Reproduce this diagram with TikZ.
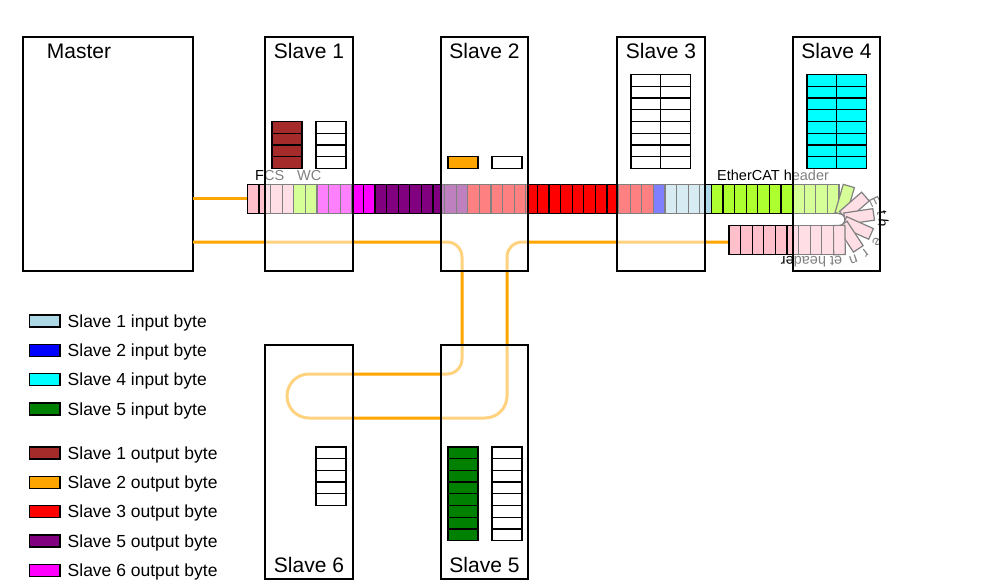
\documentclass[tikz,border=0pt]{standalone}
\usepackage{fontspec}
\setmainfont{Liberation Sans}
\definecolor{cPink}{HTML}{FFC0CB}
\definecolor{cGY}{HTML}{ADFF2F}
\definecolor{cMag}{HTML}{FF00FF}
\definecolor{cPur}{HTML}{800080}
\definecolor{cRed}{HTML}{FF0000}
\definecolor{cBlue}{HTML}{0000FF}
\definecolor{cLB}{HTML}{ADD8E6}
\definecolor{cCyan}{HTML}{00FFFF}
\definecolor{cGreen}{HTML}{008000}
\definecolor{cBrown}{HTML}{A52A2A}
\definecolor{cOrange}{HTML}{FFA500}
\begin{document}
\begin{tikzpicture}[x=1pt,y=-1pt,
  wire/.style={draw=cOrange, line width=3pt},
  cell/.style={draw=black, line width=1.2pt},
  devbox/.style={draw=black, line width=1.3pt, fill=white, fill opacity=0.5, text opacity=1, inner sep=0pt, outer sep=0pt, minimum height=234pt},
  bytecell/.style={draw=black, line width=1.3pt},
  title/.style={font=\fontsize{21}{25}\selectfont, inner sep=0pt, anchor=base},
  small/.style={font=\fontsize{14.5}{17}\selectfont, inner sep=0pt},
  legtext/.style={font=\fontsize{17.5}{21}\selectfont, inner sep=0pt, anchor=base west},
  swatch/.style={draw=black, line width=1.2pt, minimum width=30.5pt, minimum height=12pt, inner sep=0pt}
]
\useasboundingbox (0,0) rectangle (1007,582);

% master
\node[devbox, minimum width=170pt] (m) at (108,154) {};

% wires
\coordinate (f0) at (247.3,198);
\coordinate (fb) at (729,242);
\draw[wire] (m.east |- 0,198) -- (f0);
\draw[wire] (m.east |- 0,242) [rounded corners=15pt] -- (462,242) -- (462,374)
  [rounded corners=22pt] -- (287,374) -- (287,418) -- (507,418)
  [rounded corners=15pt] -- (507,242) -- (fb);

% frame: top row
\foreach \a/\b/\c in {0/3/cPink, 4/5/cGY, 6/10/cMag, 11/18/cPur, 19/34/cRed, 35/35/cBlue, 36/39/cLB, 40/50/cGY}
  \foreach \k in {\a,...,\b}
    \draw[cell, fill=\c] ({247.3+11.6*\k}, 184.5) rectangle ++(11.6,29.3);
% frame: turn
\foreach \k/\c in {51/cGY,52/cPink,53/cPink,54/cPink,55/cPink,56/cPink} {
  \pgfmathsetmacro\ph{(\k-50.5)*32.58}
  \draw[cell, fill=\c, shift={({839+20.4*sin(\ph)},{219.6-20.4*cos(\ph)})}, rotate=-\ph]
    (-5.8pt,-14.65pt) rectangle (5.8pt,14.65pt);
}
% frame: bottom row
\foreach \k in {57,...,65}
  \draw[cell, fill=cPink] ({839-(\k+1-56.525)*11.6}, 225.4) rectangle ++(11.6,29.3);

% frame labels
\node[small, anchor=base west] (lfcs) at (255,180) {FCS};
\node[small, anchor=base west] (lwc) at (297,180) {WC};
\node[small, anchor=base west] (lech) at (717,180) {EtherCAT header};
\foreach \ch/\x/\y/\r [count=\i] in {E/875/201.7/64, t/881.7/213.3/82, h/883.3/223.3/95, e/876.7/241.7/120, r/865/253.3/142, n/853.3/260/160}
  \node[small, rotate=-\r] (eh\i) at (\x,\y) {\ch};
\node[small, rotate=180] (eh7) at (811.5,262) {et header};

% slaves
\node[devbox, minimum width=88pt] (s1) at (309,154) {};
\node[devbox, minimum width=87pt] (s2) at (484.5,154) {};
\node[devbox, minimum width=88pt] (s3) at (661,154) {};
\node[devbox, minimum width=87pt] (s4) at (836.5,154) {};
\node[devbox, minimum width=88pt] (s6) at (309,462) {};
\node[devbox, minimum width=87pt] (s5) at (484.5,462) {};

% titles
\node[title] (tm) at (79,58.5) {Master};
\node[title] (t1) at (309,58.5) {Slave 1};
\node[title] (t2) at (484.5,58.5) {Slave 2};
\node[title] (t3) at (661,58.5) {Slave 3};
\node[title] (t4) at (836.5,58.5) {Slave 4};
\node[title] (t6) at (309,572) {Slave 6};
\node[title] (t5) at (484.5,572) {Slave 5};

% byte tables
\foreach \j in {0,...,3} {
  \draw[bytecell, fill=cBrown] (272,{121.5+11.7*\j}) rectangle ++(30,11.7);
  \draw[bytecell, fill=white] (316,{121.5+11.7*\j}) rectangle ++(30,11.7);
}
\draw[bytecell, fill=cOrange] (448,156.6) rectangle ++(30,11.7);
\draw[bytecell, fill=white] (492,156.6) rectangle ++(30,11.7);
\foreach \j in {0,...,7} \foreach \i in {0,1} {
  \draw[bytecell, fill=white] ({631+29.7*\i},{74.7+11.7*\j}) rectangle ++(29.7,11.7);
  \draw[bytecell, fill=cCyan] ({807+29.7*\i},{74.7+11.7*\j}) rectangle ++(29.7,11.7);
}
\foreach \j in {0,...,4}
  \draw[bytecell, fill=white] (316,{447+11.7*\j}) rectangle ++(30,11.7);
\foreach \j in {0,...,7} {
  \draw[bytecell, fill=cGreen] (448,{447+11.7*\j}) rectangle ++(30,11.7);
  \draw[bytecell, fill=white] (492,{447+11.7*\j}) rectangle ++(30,11.7);
}

% legend
\foreach \yy/\c/\t [count=\i] in {321/cLB/Slave 1 input byte, 350.3/cBlue/Slave 2 input byte, 379.6/cCyan/Slave 4 input byte, 408.9/cGreen/Slave 5 input byte, 453/cBrown/Slave 1 output byte, 482.3/cOrange/Slave 2 output byte, 511.6/cRed/Slave 3 output byte, 540.9/cPur/Slave 5 output byte, 570.2/cMag/Slave 6 output byte} {
  \node[swatch, fill=\c] (sw\i) at (44.8,\yy) {};
  \node[legtext] (lt\i) at (67.5,\yy+6.3) {\t};
}
\end{tikzpicture}
\end{document}
